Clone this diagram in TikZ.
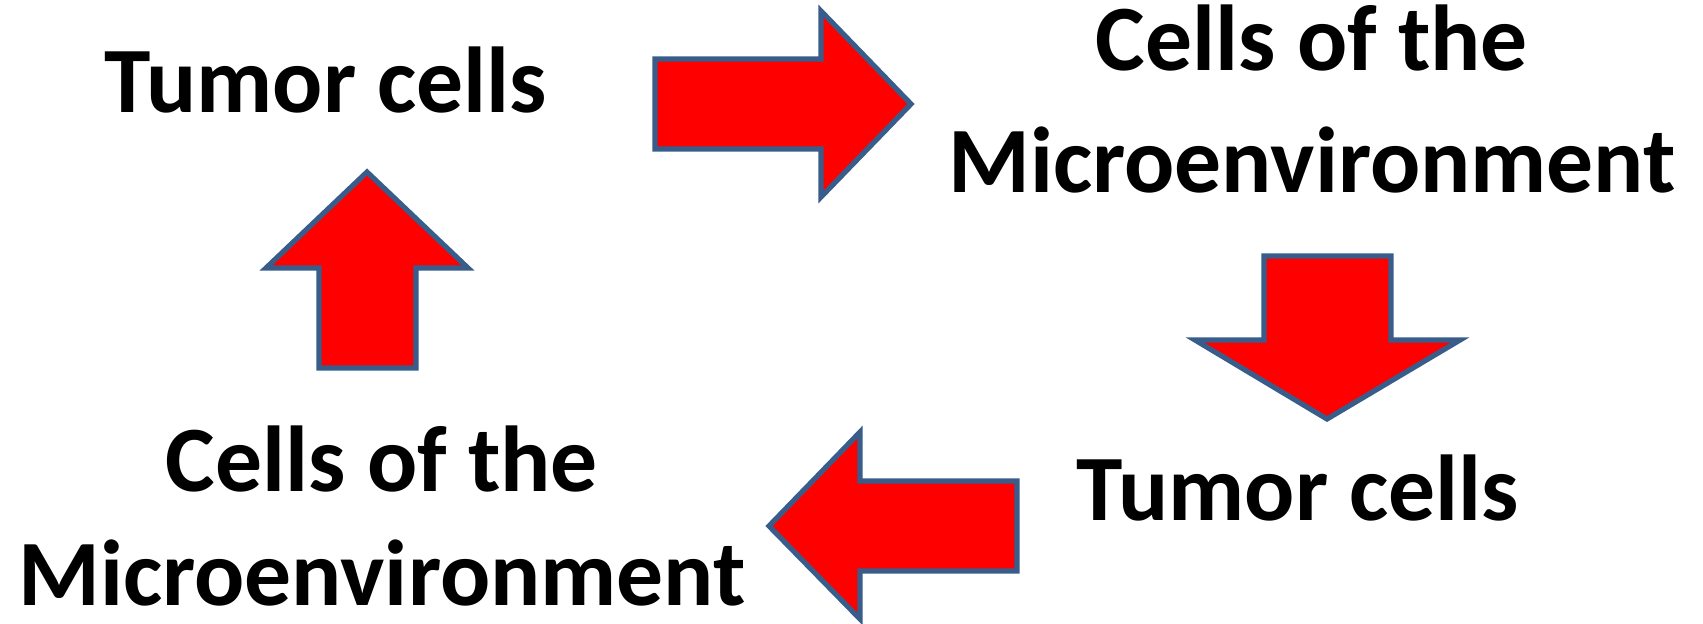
\documentclass[tikz,border=0pt]{standalone}
\usepackage{fontspec}
\setmainfont{Carlito}
\usepackage{tikz}
\usetikzlibrary{positioning}
\usepackage{xcolor}
\definecolor{arrowfill}{RGB}{255,0,0}
\definecolor{arrowline}{RGB}{56,93,138}
\tikzset{
  blockarrow/.style={draw=arrowline,fill=arrowfill,line width=2.6pt,miter limit=20},
  celltext/.style={font=\fontsize{46.8}{57}\selectfont\bfseries,align=center,inner sep=0pt,anchor=base},
}

\begin{document}
\begin{tikzpicture}[x=0.5pt,y=-0.5pt]
  \useasboundingbox (0,0) rectangle (1703,623);
  % labels of the cycle
  \node[celltext] (tumorTop) at (326,112) {Tumor cells};
  \node[celltext] (microTop) at (1312,192) {Cells of the\\[4pt]Microenvironment};
  \node[celltext] (tumorBot) at (1298,520) {Tumor cells};
  \node[celltext] (microBot) at (382,605) {Cells of the\\Microenvironment};
  % block arrows
  \draw[blockarrow] (655,59) -- (821,59) -- (821,11) -- (911,104) -- (821,197) -- (821,149) -- (655,149) -- cycle;
  \draw[blockarrow] (1264,256) -- (1391,256) -- (1391,340) -- (1460,340) -- (1327,419) -- (1195,340) -- (1264,340) -- cycle;
  \draw[blockarrow] (1017,481) -- (860,481) -- (860,432) -- (769,526) -- (860,619) -- (860,571) -- (1017,571) -- cycle;
  \draw[blockarrow] (319,368) -- (319,268) -- (266,268) -- (367,172) -- (468,268) -- (416,268) -- (416,368) -- cycle;
\end{tikzpicture}
\end{document}
